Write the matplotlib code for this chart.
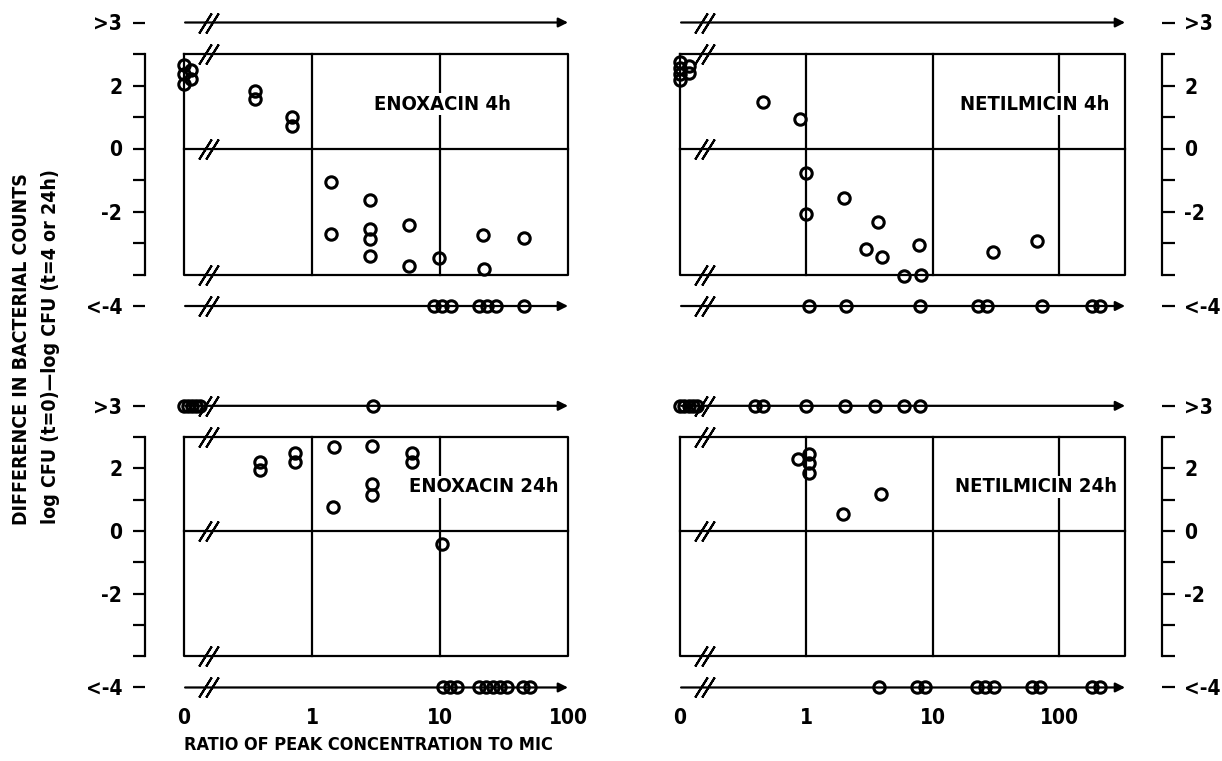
import matplotlib
matplotlib.use("Agg")
import matplotlib.pyplot as plt
from matplotlib.ticker import NullLocator

plt.rcParams['font.family'] = ['DejaVu Sans']
plt.rcParams['font.stretch'] = 'condensed'
plt.rcParams['font.weight'] = 'bold'

# ---- data (ratio of peak conc. to MIC, log CFU difference) ----
# values at ratio "0" are drawn just right of the axis break
enox4_x = [0.1, 0.1, 0.1, 0.113, 0.113, 0.36, 0.36, 0.70, 0.70, 1.41, 1.41,
           2.82, 2.82, 2.82, 2.82, 5.7, 5.7, 9.8, 21.7, 21.9, 45.3]
enox4_y = [2.64, 2.35, 2.06, 2.49, 2.22, 1.84, 1.56, 1.0, 0.7, -1.06, -2.71,
           -1.64, -2.54, -2.86, -3.42, -2.42, -3.73, -3.47, -2.75, -3.81, -2.84]
enox4_high = []
enox4_low = [8.98, 10.4, 12.1, 20.2, 23.4, 27.2, 45.6]

netil4_x = [0.1, 0.1, 0.1, 0.1, 0.118, 0.118, 0.45, 0.89, 1.0, 1.0, 1.97,
            3.66, 2.93, 3.94, 7.82, 5.92, 8.0, 29.7, 66.2]
netil4_y = [2.76, 2.56, 2.37, 2.19, 2.63, 2.39, 1.49, 0.94, -0.78, -2.07, -1.56,
            -2.32, -3.18, -3.46, -3.07, -4.05, -4.03, -3.30, -2.95]
netil4_high = []
netil4_low = [1.05, 2.06, 7.92, 22.6, 26.6, 72.4, 180, 209]

enox24_x = [0.39, 0.39, 0.74, 0.74, 1.49, 1.46, 2.96, 2.96, 2.96, 6.0, 6.0, 10.3]
enox24_y = [2.21, 1.95, 2.48, 2.21, 2.69, 0.76, 2.72, 1.50, 1.15, 2.48, 2.21, -0.42]
enox24_high = [0.1, 0.107, 0.115, 0.124, 0.133, 2.99]
enox24_low = [10.5, 12.0, 13.6, 20.2, 22.9, 25.9, 29.4, 33.4, 44.5, 50.5]

netil24_x = [0.86, 1.04, 1.04, 1.04, 3.89, 1.96]
netil24_y = [2.3, 2.46, 2.16, 1.86, 1.17, 0.53]
netil24_high = [0.1, 0.108, 0.117, 0.126, 0.136, 0.39, 0.457, 0.99, 2.02, 3.45, 5.85, 7.92]
netil24_low = [3.76, 7.45, 8.67, 22.2, 25.9, 30.1, 60.4, 70.3, 180, 209]

y_ticks = [-5, -4, -3, -2, -1, 0, 1, 2, 3, 4]
y_ticklabels = ['<-4', '', '', '-2', '', '0', '', '2', '', '>3']
x_ticks = [0.1, 1, 10, 100]
x_ticklabels = ['0', '1', '10', '100']

HIGH, LOW = 4, -5   # rows for ">3" and "<-4"

W, H = 1222, 761
fig = plt.figure(figsize=(W / 100, H / 100), dpi=100)


def add_panel(left, right, top, bottom):
    return fig.add_axes([left / W, 1 - bottom / H, (right - left) / W, (bottom - top) / H])


def draw_panel(ax, xs, ys, high, low, xmax, xlim_max, grid_x, label, side, bottom_row, brk):
    lw = 1.6
    ax.set_xscale('log')
    ax.set_xlim(0.1, xlim_max)
    ax.set_ylim(-5.4, 4.4)
    kw = dict(color='k', lw=lw, clip_on=False, solid_capstyle='projecting')
    # box, zero line and decade lines
    ax.plot([0.1, xmax, xmax, 0.1, 0.1], [3, 3, -4, -4, 3], **kw)
    ax.plot([0.1, xmax], [0, 0], **kw)
    for gx in grid_x:
        ax.plot([gx, gx], [-4, 3], **kw)
    # ">3" and "<-4" rows with arrows
    for yy in (HIGH, LOW):
        ax.annotate('', xy=(xmax, yy), xytext=(0.102, yy),
                    arrowprops=dict(arrowstyle='-|>', lw=lw, color='k',
                                    mutation_scale=14, shrinkA=0, shrinkB=0))
    # axis break marks
    for yy in (HIGH, 3, 0, -4, LOW):
        ax.plot(list(brk), [yy, yy], ls='none', marker=(2, 2, -32),
                ms=17, mew=1.5, color='k', clip_on=False, zorder=4)
    # data
    mk = dict(ls='none', marker='o', ms=8.2, mfc='none', mec='k', mew=2.2,
              clip_on=False, zorder=5)
    ax.plot(xs, ys, **mk)
    ax.plot(high, [HIGH] * len(high), **mk)
    ax.plot(low, [LOW] * len(low), **mk)
    ax.text(label[1], label[2], label[0], ha='right', va='center', fontsize=14.5,
            fontweight='bold', zorder=6,
            bbox=dict(fc='white', ec='none', pad=1.0))

    for s in ax.spines.values():
        s.set_visible(False)
    ax.xaxis.set_minor_locator(NullLocator())
    if bottom_row:
        ax.set_xticks(x_ticks, x_ticklabels)
        ax.tick_params(axis='x', length=0, pad=6, labelsize=15)
    else:
        ax.set_xticks([])
    ax.set_yticks(y_ticks, y_ticklabels)
    if side == 'left':
        sp = ax.spines['left']
        sp.set_position(('outward', 28))
        ax.tick_params(axis='y', length=8.5, width=lw, pad=8, labelsize=15)
    else:
        sp = ax.spines['right']
        sp.set_position(('outward', 25.5))
        ax.yaxis.tick_right()
        ax.tick_params(axis='y', length=9, width=lw, pad=7, labelsize=15)
    sp.set_visible(True)
    sp.set_bounds(-4, 3)
    sp.set_linewidth(lw)


ax_tl = add_panel(184, 574.4, 9.9, 318.6)
ax_tr = add_panel(680, 1126.5, 9.9, 318.6)
ax_bl = add_panel(184, 574.4, 393.3, 700)
ax_br = add_panel(680, 1126.5, 393.3, 700)

panels = [
    (ax_tl, enox4_x, enox4_y, enox4_high, enox4_low, 100, 10 ** 2.05, [1, 10],
     ('ENOXACIN 4h', 36, 1.4), 'left', False, 128),
    (ax_tr, netil4_x, netil4_y, netil4_high, netil4_low, 330, 10 ** 2.53, [1, 10, 100],
     ('NETILMICIN 4h', 250, 1.4), 'right', False, 126.5),
    (ax_bl, enox24_x, enox24_y, enox24_high, enox24_low, 100, 10 ** 2.05, [1, 10],
     ('ENOXACIN 24h', 85, 1.41), 'left', True, 128),
    (ax_br, netil24_x, netil24_y, netil24_high, netil24_low, 330, 10 ** 2.53, [1, 10, 100],
     ('NETILMICIN 24h', 285, 1.41), 'right', True, 126.5),
]
for p in panels:
    decade = p[-1]
    brk = (10 ** (-1 + 21 / decade), 10 ** (-1 + 28 / decade))
    draw_panel(*p[:-1], brk)

fig.text(22 / W, 1 - 349 / H, 'DIFFERENCE IN BACTERIAL COUNTS', rotation=90,
         ha='center', va='center', fontsize=14, fontweight='bold')
fig.text(50 / W, 1 - 347 / H, 'log CFU (t=0)\u2014log CFU (t=4 or 24h)', rotation=90,
         ha='center', va='center', fontsize=14, fontweight='bold')
fig.text(368 / W, 1 - 745 / H, 'RATIO OF PEAK CONCENTRATION TO MIC',
         ha='center', va='center', fontsize=13, fontweight='bold')

fig.savefig('out.png', dpi=100)
